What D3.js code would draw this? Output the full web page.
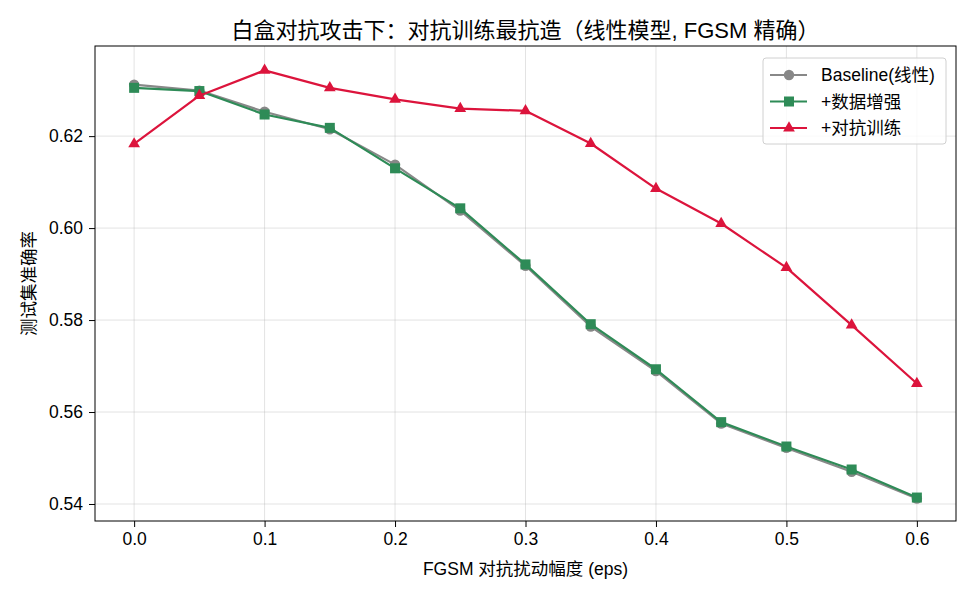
<!DOCTYPE html>
<html>
<head>
<meta charset="utf-8">
<script src="https://cdn.jsdelivr.net/npm/d3@7"></script>
<style>
  body { margin: 0; background: #fff; }
  svg { display: block; }
</style>
</head>
<body>
<div id="chart"></div>
<script>
const eps = [0.0, 0.05, 0.1, 0.15, 0.2, 0.25, 0.3, 0.35, 0.4, 0.45, 0.5, 0.55, 0.6];
const baseline = [0.6312, 0.6299, 0.6253, 0.6215, 0.6138, 0.6038, 0.5918, 0.5786, 0.5689, 0.5575, 0.5522, 0.5470, 0.5412];
const augment = [0.6305, 0.6298, 0.6247, 0.6218, 0.6130, 0.6043, 0.5921, 0.5791, 0.5693, 0.5578, 0.5525, 0.5475, 0.5414];
const advTrain = [0.6183, 0.6288, 0.6343, 0.6305, 0.6280, 0.6260, 0.6255, 0.6184, 0.6086, 0.6010, 0.5914, 0.5789, 0.5662];
const xTicks = [0.0, 0.1, 0.2, 0.3, 0.4, 0.5, 0.6];
const yTicks = [0.54, 0.56, 0.58, 0.60, 0.62];

const series = [
  { name: "Baseline(线性)", values: baseline, color: "#888888", marker: "circle" },
  { name: "+数据增强", values: augment, color: "#2e8b57", marker: "square" },
  { name: "+对抗训练", values: advTrain, color: "#dc143c", marker: "triangle" }
];

const width = 975, height = 598;
const margin = { top: 46, right: 19, bottom: 77, left: 95 };
const font = "'Liberation Sans', 'Noto Sans CJK SC', sans-serif";

const svg = d3.select("#chart").append("svg")
  .attr("width", width).attr("height", height)
  .style("font-family", font);

const x = d3.scaleLinear([-0.03, 0.63], [margin.left, width - margin.right]);
const y = d3.scaleLinear([0.5363, 0.6396], [height - margin.bottom, margin.top]);

// grid
svg.append("g").selectAll("line").data(xTicks).join("line")
  .attr("x1", d => x(d)).attr("x2", d => x(d))
  .attr("y1", margin.top).attr("y2", height - margin.bottom)
  .attr("stroke", "#b0b0b0").attr("stroke-opacity", 0.35).attr("stroke-width", 1);
svg.append("g").selectAll("line").data(yTicks).join("line")
  .attr("y1", d => y(d)).attr("y2", d => y(d))
  .attr("x1", margin.left).attr("x2", width - margin.right)
  .attr("stroke", "#b0b0b0").attr("stroke-opacity", 0.35).attr("stroke-width", 1);

// axes
const xAxis = svg.append("g")
  .attr("transform", `translate(0,${height - margin.bottom})`)
  .call(d3.axisBottom(x).tickValues(xTicks).tickFormat(d3.format(".1f")).tickSize(6).tickPadding(6).tickSizeOuter(0));
const yAxis = svg.append("g")
  .attr("transform", `translate(${margin.left},0)`)
  .call(d3.axisLeft(y).tickValues(yTicks).tickFormat(d3.format(".2f")).tickSize(6).tickPadding(6).tickSizeOuter(0));
[xAxis, yAxis].forEach(g => {
  g.select(".domain").remove();
  g.selectAll("text").attr("font-size", 17.5).attr("fill", "#000").style("font-family", font);
  g.selectAll("line").attr("stroke", "#000");
});

// frame
svg.append("rect")
  .attr("x", margin.left).attr("y", margin.top)
  .attr("width", width - margin.left - margin.right)
  .attr("height", height - margin.top - margin.bottom)
  .attr("fill", "none").attr("stroke", "#000").attr("stroke-width", 1);

const line = d3.line().x((d, i) => x(eps[i])).y(d => y(d));

function drawMarker(g, type, color, cx, cy) {
  if (type === "circle") {
    g.append("circle").attr("cx", cx).attr("cy", cy).attr("r", 5.2).attr("fill", color);
  } else if (type === "square") {
    g.append("rect").attr("x", cx - 5).attr("y", cy - 5).attr("width", 10).attr("height", 10).attr("fill", color);
  } else {
    g.append("path").attr("d", d3.symbol(d3.symbolTriangle, 60)()).attr("transform", `translate(${cx},${cy})`).attr("fill", color);
  }
}

series.forEach(s => {
  const g = svg.append("g");
  g.append("path").datum(s.values)
    .attr("d", line).attr("fill", "none")
    .attr("stroke", s.color).attr("stroke-width", 2.2).attr("stroke-linejoin", "round");
  s.values.forEach((v, i) => drawMarker(g, s.marker, s.color, x(eps[i]), y(v)));
});

// legend
const lg = svg.append("g");
lg.append("rect")
  .attr("x", 763).attr("y", 58).attr("width", 183).attr("height", 86).attr("rx", 3)
  .attr("fill", "#fff").attr("fill-opacity", 0.8).attr("stroke", "#d0d0d0");
series.forEach((s, i) => {
  const ly = 75 + i * 26.5;
  lg.append("line").attr("x1", 770).attr("x2", 807).attr("y1", ly).attr("y2", ly)
    .attr("stroke", s.color).attr("stroke-width", 2.2);
  drawMarker(lg, s.marker, s.color, 789, ly);
  lg.append("text").attr("x", 821).attr("y", ly).attr("dy", "0.35em")
    .attr("font-size", 17.5).text(s.name);
});

// titles
svg.append("text").attr("x", (margin.left + width - margin.right) / 2).attr("y", 30)
  .attr("text-anchor", "middle").attr("dy", "0.35em").attr("font-size", 22)
  .text("白盒对抗攻击下：对抗训练最抗造（线性模型, FGSM 精确）");
svg.append("text").attr("x", (margin.left + width - margin.right) / 2).attr("y", 569)
  .attr("text-anchor", "middle").attr("dy", "0.35em").attr("font-size", 17.5)
  .text("FGSM 对抗扰动幅度 (eps)");
svg.append("text")
  .attr("transform", `translate(29,${(margin.top + height - margin.bottom) / 2}) rotate(-90)`)
  .attr("text-anchor", "middle").attr("dy", "0.35em").attr("font-size", 17.5)
  .text("测试集准确率");
</script>
</body>
</html>
